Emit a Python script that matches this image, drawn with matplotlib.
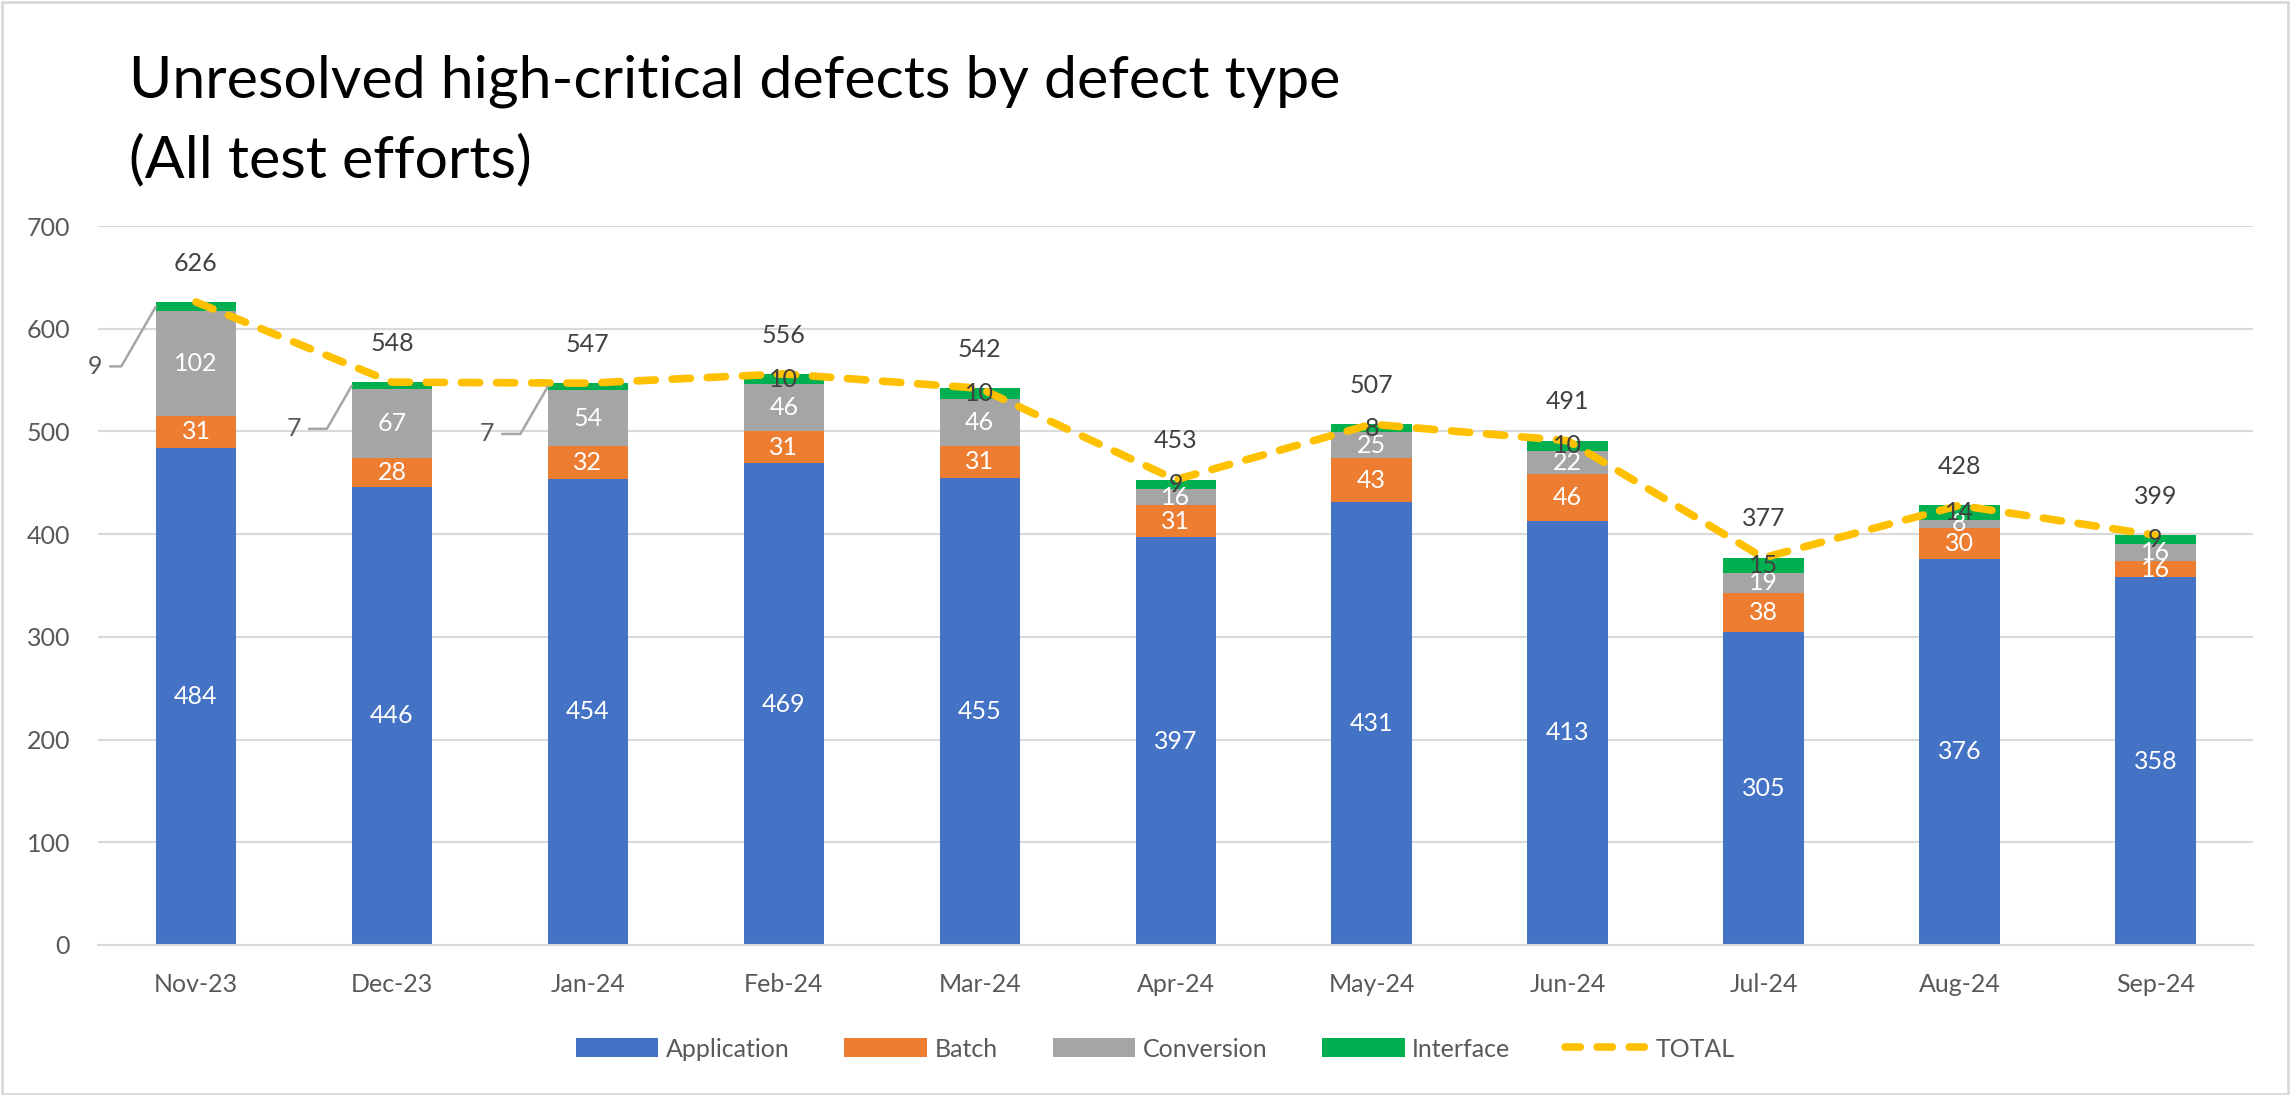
import numpy as np
import matplotlib
matplotlib.use('Agg')
import matplotlib.pyplot as plt
from matplotlib.patches import Patch, Rectangle
from matplotlib.lines import Line2D

plt.rcParams['font.family'] = ['Lato', 'DejaVu Sans']

months = ['Nov-23', 'Dec-23', 'Jan-24', 'Feb-24', 'Mar-24', 'Apr-24',
          'May-24', 'Jun-24', 'Jul-24', 'Aug-24', 'Sep-24']
application = [484, 446, 454, 469, 455, 397, 431, 413, 305, 376, 358]
batch = [31, 28, 32, 31, 31, 31, 43, 46, 38, 30, 16]
conversion = [102, 67, 54, 46, 46, 16, 25, 22, 19, 8, 16]
interface = [9, 7, 7, 10, 10, 9, 8, 10, 15, 14, 9]
total = [626, 548, 547, 556, 542, 453, 507, 491, 377, 428, 399]

# interface labels pulled out to the left with a leader line (first three months)
leader_offsets = {0: (-44, -43), 1: (-42, -31), 2: (-44, -34)}

colors = ['#4472C4', '#ED7D31', '#A5A5A5', '#00B050']
total_color = '#FFC000'
text_gray = '#595959'
label_dark = '#404040'
fs = 18

fig = plt.figure(figsize=(22.9, 10.95), dpi=100)
fig.patches.append(Rectangle((0.001, 0.001), 0.998, 0.997, transform=fig.transFigure,
                             fill=False, edgecolor='#D9D9D9', linewidth=2))
ax = fig.add_axes([0.0428, 0.137, 0.9412, 0.6566])

x = np.arange(len(months))
width = 0.41
series = [application, batch, conversion, interface]
bottom = np.zeros(len(months))
bar_groups = []
for vals, col in zip(series, colors):
    bars = ax.bar(x, vals, width, bottom=bottom, color=col, zorder=2)
    bar_groups.append((bars, np.array(vals), bottom.copy()))
    bottom += np.array(vals)

ax.plot(x, total, color=total_color, linewidth=5.5, linestyle=(0, (2.4, 2.2)),
        dash_capstyle='round', zorder=3)

# labels for application, batch, conversion (white, centered)
for bars, vals, bot in bar_groups[:3]:
    for xi, v, b in zip(x, vals, bot):
        ax.text(xi, b + v / 2, str(v), ha='center', va='center', color='white',
                fontsize=fs, zorder=5)

# interface labels
bars, vals, bot = bar_groups[3]
for i, (xi, v, b) in enumerate(zip(x, vals, bot)):
    if i in leader_offsets:
        ax.annotate(str(v), xy=(xi - width / 2, b + v / 2), xytext=leader_offsets[i],
                    textcoords='offset points', ha='center', va='center',
                    fontsize=fs, color=text_gray, zorder=5,
                    arrowprops=dict(arrowstyle='-', color='#A6A6A6', lw=1.8,
                                    connectionstyle='angle,angleA=0,angleB=60,rad=0',
                                    shrinkA=4, shrinkB=0))
    else:
        ax.text(xi, b + v / 2, str(v), ha='center', va='center', color=label_dark,
                fontsize=fs, zorder=5)

# total labels above
for xi, t in zip(x, total):
    ax.annotate(str(t), xy=(xi, t), xytext=(0, 28), textcoords='offset points',
                ha='center', va='center', fontsize=fs, color=label_dark, zorder=5)

ax.set_xlim(-0.5, len(months) - 0.5)
ax.set_ylim(0, 700)
ax.set_yticks(range(0, 701, 100))
ax.set_xticks(x)
ax.set_xticklabels(months)
ax.tick_params(axis='both', length=0, labelsize=fs, labelcolor=text_gray)
ax.tick_params(axis='y', pad=20)
ax.tick_params(axis='x', pad=20)
ax.grid(axis='y', color='#D9D9D9', linewidth=1.5, zorder=0)
for s in ['top', 'right', 'left']:
    ax.spines[s].set_visible(False)
ax.spines['bottom'].set_color('#D9D9D9')
ax.spines['bottom'].set_linewidth(1.5)
ax.set_axisbelow(True)

fig.text(0.0563, 1 - 97 / 1095, 'Unresolved high-critical defects by defect type',
         fontsize=42.5, color='black', va='baseline', ha='left')
fig.text(0.0563, 1 - 177 / 1095, '(All test efforts)',
         fontsize=42.5, color='black', va='baseline', ha='left')

handles = [Patch(facecolor=c) for c in colors]
handles.append(Line2D([0], [0], color=total_color, linewidth=5.5,
                      linestyle=(0, (2.0, 2.2)), dash_capstyle='round'))
labels = ['Application', 'Batch', 'Conversion', 'Interface', 'TOTAL']
fig.legend(handles, labels, loc='center', bbox_to_anchor=(0.5044, 0.042), ncol=5,
           frameon=False, fontsize=fs, labelcolor=text_gray, handlelength=3.3,
           handleheight=0.8, handletextpad=0.3, columnspacing=2.2)

fig.savefig('out.png', dpi=100)
